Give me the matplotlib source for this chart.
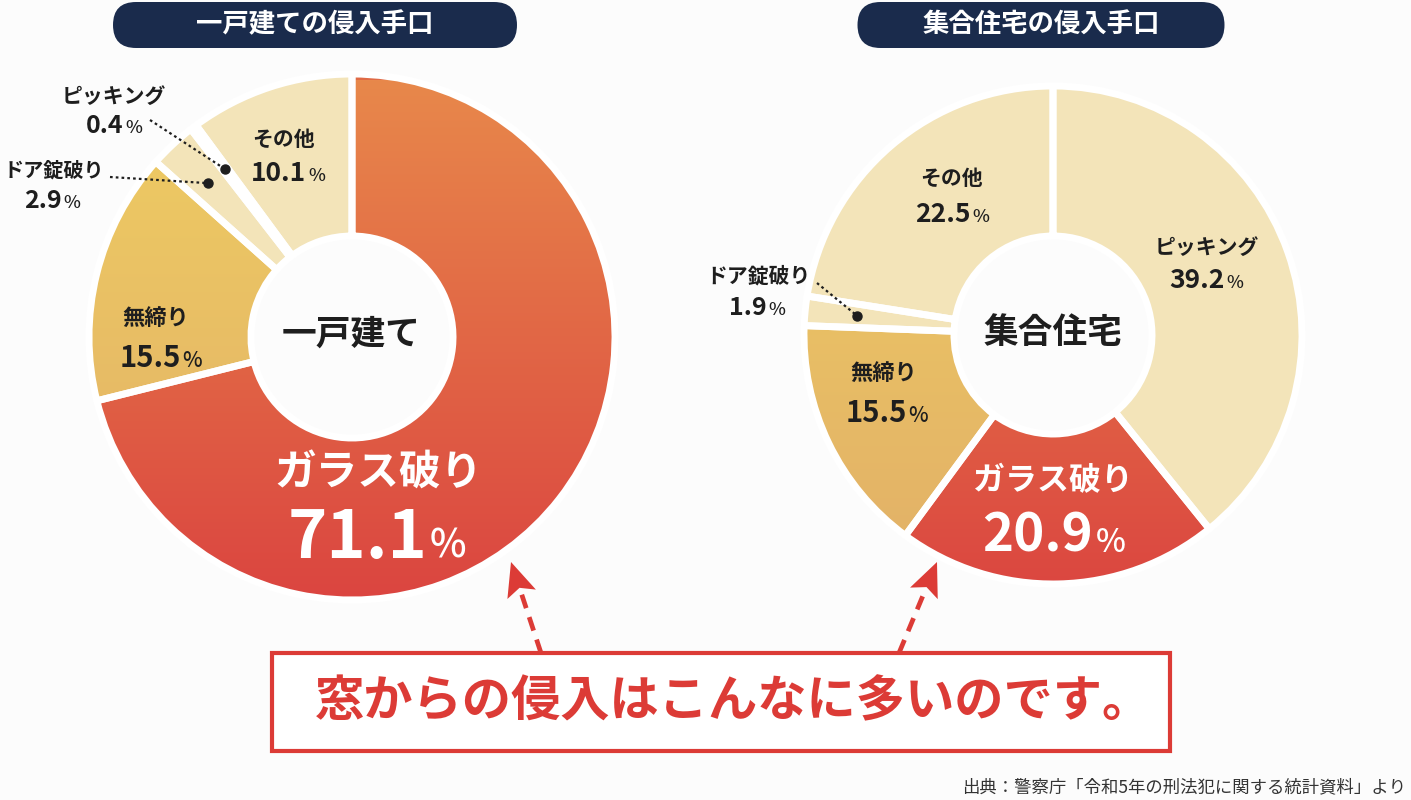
import matplotlib
matplotlib.use("Agg")
import matplotlib.pyplot as plt
import numpy as np
from matplotlib.patches import FancyBboxPatch, Rectangle, Polygon
from matplotlib.colors import to_rgb

plt.rcParams['font.family'] = ['Noto Sans CJK JP', 'DejaVu Sans']

# data
house_labels = ['ガラス破り', '無締り', 'ドア錠破り', 'ピッキング', 'その他']
house_values = [71.1, 15.5, 2.9, 0.4, 10.1]
apt_labels = ['ピッキング', 'ガラス破り', '無締り', 'ドア錠破り', 'その他']
apt_values = [39.2, 20.9, 15.5, 1.9, 22.5]

house_title = '一戸建ての侵入手口'
apt_title = '集合住宅の侵入手口'
house_center_text = '一戸建て'
apt_center_text = '集合住宅'
message = '窓からの侵入はこんなに多いのです。'
source = '出典：警察庁「令和5年の刑法犯に関する統計資料」より'

# colours
BG = '#fcfcfc'
NAVY = '#1a2b4c'
RED = '#dc3b36'
INK = '#1e1e1e'
COLORS = {'ガラス破り': '#e06a45', '無締り': '#e8c064', 'ドア錠破り': '#f3e4b9',
          'ピッキング': '#f3e4b9', 'その他': '#f3e4b9'}
GRADIENTS = {'ガラス破り': ('#e8884b', '#db4540'), '無締り': ('#efcd62', '#e2b068')}

W, H = 1411, 800
fig = plt.figure(figsize=(W / 100, H / 100), dpi=100)
fig.patch.set_facecolor(BG)
ax = fig.add_axes([0, 0, 1, 1])
ax.set_facecolor(BG)


def Y(y):
    # image row -> axes y
    return H - y


def draw_donut(values, labels, center, radius, hole):
    cx, cy = center[0], Y(center[1])
    face = [COLORS[l] for l in labels]
    wedges, _ = ax.pie(values, colors=face, startangle=90, counterclock=False,
                       center=(cx, cy), radius=radius,
                       wedgeprops=dict(width=radius - hole, linewidth=0, zorder=1))
    for w, l in zip(wedges, labels):
        if l in GRADIENTS:
            top, bottom = GRADIENTS[l]
            g = np.linspace(0, 1, 256)[:, None]
            rgb = (1 - g) * np.array(to_rgb(bottom)) + g * np.array(to_rgb(top))
            if l == 'ガラス破り':
                ext = (cx - radius, cx + radius, Y(600), Y(80))
            else:
                ext = (cx - radius, cx + radius, cy - radius, cy + radius)
            im = ax.imshow(rgb[:, None, :], extent=ext, origin='lower', aspect='auto',
                           interpolation='bilinear', zorder=1.5)
            im.set_clip_path(w)
    ax.pie(values, colors=['none'] * len(values), startangle=90, counterclock=False,
           center=(cx, cy), radius=radius,
           wedgeprops=dict(width=radius - hole, edgecolor='white', linewidth=5, zorder=2))
    return wedges


def value_text(x, y, num, size, psize, color=INK):
    t1 = ax.text(x, Y(y), num, fontsize=size, fontweight='bold', color=color,
                 ha='left', va='baseline', zorder=5)
    t2 = ax.text(x, Y(y), '%', fontsize=psize, fontweight='medium', color=color,
                 ha='left', va='baseline', zorder=5)
    r = fig.canvas.get_renderer()
    w1 = t1.get_window_extent(r).width
    w2 = t2.get_window_extent(r).width
    gap = 1 + size * 0.03
    x0 = x - (w1 + gap + w2) / 2
    t1.set_x(x0)
    t2.set_x(x0 + w1 + gap)


def label_text(x, y, s, size, color=INK):
    ax.text(x, Y(y), s, fontsize=size, fontweight='bold', color=color,
            ha='center', va='center', zorder=5)


def leader(x, y, wedge, frac):
    mid = np.deg2rad((wedge.theta1 + wedge.theta2) / 2)
    cx, cy = wedge.center
    r = wedge.r * frac
    dx, dy = cx + r * np.cos(mid), cy + r * np.sin(mid)
    ax.plot([x, dx], [Y(y), dy], ls=(0, (1.2, 1.4)), lw=1.6, color=INK, zorder=4)
    ax.plot(dx, dy, 'o', ms=6.5, color=INK, zorder=4)


# title pills
for cx, w, txt in [(315, 404, house_title), (1041, 367, apt_title)]:
    pill = FancyBboxPatch((cx - w / 2, Y(48)), w, 46,
                          boxstyle='round,pad=0,rounding_size=23',
                          facecolor=NAVY, edgecolor='none', zorder=3)
    ax.add_patch(pill)
    ax.text(cx, Y(25), txt, fontsize=19, fontweight='bold', color='white',
            ha='center', va='center', zorder=4)

# donuts
hw = draw_donut(house_values, house_labels, (352, 337), 263, 101)
aw = draw_donut(apt_values, apt_labels, (1053, 335), 249, 99)

# house labels
label_text(351, 334, house_center_text, 25)
label_text(284, 139, 'その他', 15)
value_text(288, 181, '10.1', 19, 13)
label_text(114, 96, 'ピッキング', 15)
value_text(114, 133, '0.4', 18, 13)
leader(150, 120, hw[3], 0.8)
label_text(54, 170, 'ドア錠破り', 14.5)
value_text(52, 208, '2.9', 18, 13)
leader(110, 177, hw[2], 0.8)
label_text(156, 318, '無締り', 16)
value_text(161, 367, '15.5', 21, 15)
label_text(378, 474, 'ガラス破り', 30, 'white')
value_text(377, 558, '71.1', 48, 28, 'white')

# apartment labels
label_text(1053, 333, apt_center_text, 25)
label_text(952, 178, 'その他', 15)
value_text(952, 222, '22.5', 19, 13)
label_text(1207, 247, 'ピッキング', 15)
value_text(1206, 288, '39.2', 19, 13)
label_text(758, 276, 'ドア錠破り', 15)
value_text(757, 315, '1.9', 18, 13)
leader(817, 283, aw[3], 0.79)
label_text(884, 373, '無締り', 16)
value_text(887, 422, '15.5', 21, 15)
label_text(1053, 481, 'ガラス破り', 23, 'white')
value_text(1054, 552, '20.9', 38, 23, 'white')

# dashed arrows
for tail, tip in [((541, 653), (511, 562)), ((899, 653), (937, 562))]:
    tx, ty = tail[0], Y(tail[1])
    px, py = tip[0], Y(tip[1])
    d = np.array([px - tx, py - ty], dtype=float)
    d /= np.hypot(*d)
    n = np.array([-d[1], d[0]])
    head_len, head_w = 34, 15
    base = np.array([px, py]) - d * head_len
    ax.plot([tx, base[0] + d[0] * 4], [ty, base[1] + d[1] * 4], color=RED, lw=3.4,
            ls=(0, (3, 2)), solid_capstyle='butt', dash_capstyle='butt', zorder=3)
    notch = np.array([px, py]) - d * head_len * 0.8
    ax.add_patch(Polygon([[px, py], base + n * head_w, notch, base - n * head_w],
                         closed=True, facecolor=RED, edgecolor='none', zorder=3))

# message box
ax.add_patch(Rectangle((272, Y(751)), 898, 98, facecolor='white', edgecolor=RED,
                       linewidth=3, zorder=3))
ax.text(734, Y(702), message, fontsize=35.5, fontweight='bold', color=RED,
        ha='center', va='center', zorder=4)

ax.text(1406, Y(787), source, fontsize=12.5, color='#333333', ha='right', va='center')

ax.set_xlim(0, W)
ax.set_ylim(0, H)
ax.set_aspect('equal')
ax.axis('off')
fig.savefig('out.png', dpi=100, facecolor=BG)
